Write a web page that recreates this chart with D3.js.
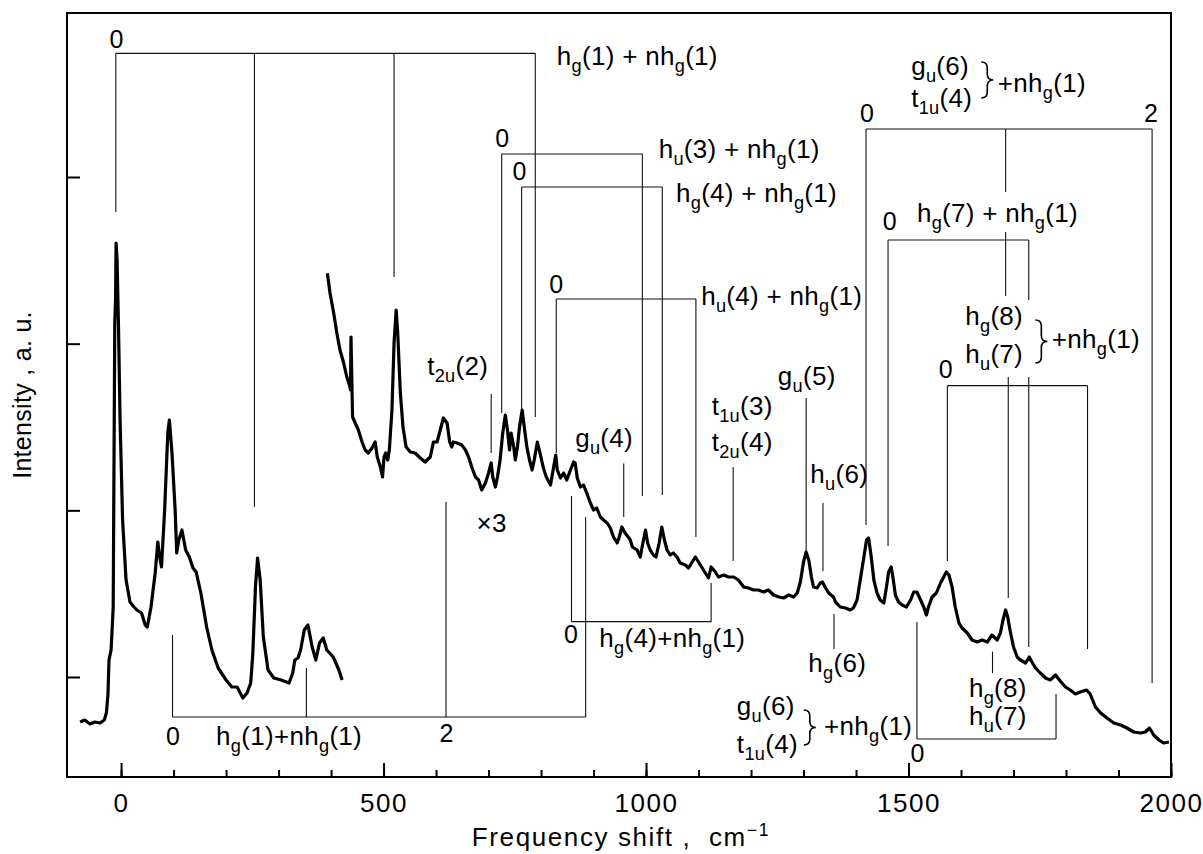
<!DOCTYPE html>
<html>
<head>
<meta charset="utf-8">
<script src="https://cdn.jsdelivr.net/npm/d3@7/dist/d3.min.js"></script>
<style>
body { margin: 0; background: #fff; }
text { font-family: "Liberation Sans", Arial, Helvetica, sans-serif; fill: #000; white-space: pre; }
</style>
</head>
<body>
<div id="chart"></div>
<script>
// spectrum below 420 cm-1 (frequency shift, intensity a.u.)
var lowSpectrum = [[-78,-270],[-69,-258],[-59,-282],[-50,-270],[-40,-276],[-32,-258],[-28,-216],[-25,-108],[-23,102],[-19,162],[-15,420],[-13,1542],[-12,2130],[-10.5,2262],[-9.5,2604],[-7.6,2502],[-4.8,2082],[-1.9,1542],[2.9,942],[9.5,582],[17,450],[23,426],[30,402],[39,384],[46,312],[50,300],[57,420],[65,624],[70,810],[73,732],[77,660],[83,1002],[89,1464],[92,1542],[97,1344],[103,1002],[106,744],[110,822],[116,882],[123,762],[130,720],[137,654],[143,630],[152,504],[163,300],[173,162],[185,54],[200,-18],[211,-60],[221,-60],[232,-126],[240,-96],[247,-36],[251,144],[256,540],[260,714],[265,582],[271,240],[280,42],[291,-6],[305,-18],[320,-36],[327,24],[331,102],[337,114],[342,162],[349,282],[356,312],[364,180],[371,102],[378,204],[385,234],[392,162],[404,120],[415,42],[421,-18]];

// spectrum above 390 cm-1, shown x3
var highSpectrum = [[393,2422],[398,2304],[405,2184],[411,2064],[417,1962],[424,1884],[430,1800],[435,1752],[437,1722],[438,2040],[440,1710],[441,1560],[446,1524],[452,1482],[459,1410],[465,1362],[471,1344],[478,1374],[484,1410],[488,1320],[494,1260],[498,1200],[501,1320],[504,1344],[508,1302],[511,1362],[516,1602],[520,2004],[524,2202],[527,2064],[532,1704],[537,1500],[543,1380],[551,1350],[560,1344],[570,1314],[579,1290],[589,1320],[595,1410],[602,1410],[608,1482],[614,1554],[621,1524],[626,1410],[630,1380],[633,1410],[640,1404],[649,1392],[656,1362],[662,1320],[668,1260],[675,1200],[681,1182],[687,1122],[694,1164],[700,1224],[705,1284],[708,1200],[713,1140],[717,1200],[722,1302],[727,1464],[732,1572],[736,1482],[740,1362],[743,1464],[748,1380],[751,1302],[755,1380],[759,1500],[764,1602],[768,1500],[773,1380],[778,1302],[783,1242],[787,1302],[793,1410],[798,1344],[804,1260],[810,1200],[818,1152],[824,1260],[828,1332],[831,1242],[837,1194],[843,1224],[849,1182],[856,1242],[862,1290],[865,1284],[869,1194],[875,1140],[881,1152],[887,1104],[894,1044],[900,1002],[906,1014],[913,960],[919,942],[926,924],[932,894],[938,840],[945,804],[949,840],[954,900],[960,864],[966,840],[970,822],[974,780],[983,762],[989,720],[994,804],[999,882],[1003,804],[1008,762],[1014,732],[1019,720],[1025,804],[1030,900],[1035,822],[1040,762],[1046,732],[1052,744],[1059,720],[1065,684],[1075,672],[1081,654],[1088,690],[1094,720],[1100,690],[1107,654],[1113,624],[1119,594],[1124,660],[1132,630],[1138,600],[1148,612],[1157,600],[1167,600],[1176,582],[1186,540],[1195,534],[1205,522],[1214,522],[1224,510],[1233,522],[1243,492],[1253,480],[1262,474],[1272,492],[1281,480],[1288,504],[1294,570],[1300,690],[1305,750],[1310,702],[1315,600],[1319,540],[1326,534],[1332,564],[1336,570],[1342,534],[1348,504],[1357,480],[1361,450],[1370,420],[1380,414],[1389,402],[1395,414],[1402,462],[1408,582],[1415,720],[1420,822],[1424,834],[1429,720],[1434,582],[1440,504],[1446,462],[1453,444],[1458,540],[1462,630],[1467,660],[1471,582],[1475,492],[1481,450],[1488,432],[1496,420],[1504,462],[1510,510],[1516,510],[1523,462],[1529,420],[1534,372],[1538,420],[1545,480],[1553,504],[1561,564],[1567,600],[1572,630],[1577,612],[1583,540],[1589,420],[1596,324],[1602,294],[1612,264],[1621,222],[1631,210],[1640,222],[1650,210],[1659,252],[1669,222],[1675,264],[1680,342],[1685,402],[1689,360],[1694,270],[1700,180],[1707,120],[1713,102],[1723,84],[1730,120],[1735,90],[1742,54],[1751,24],[1761,-6],[1770,-18],[1780,12],[1789,-24],[1799,-60],[1808,-78],[1818,-102],[1827,-90],[1839,-78],[1846,-102],[1856,-180],[1866,-216],[1878,-246],[1891,-276],[1904,-288],[1916,-306],[1929,-330],[1942,-336],[1951,-330],[1959,-306],[1967,-348],[1977,-378],[1986,-396],[1996,-390]];

var xMajor = [0, 500, 1000, 1500, 2000];
var xMinor = d3.range(0, 2001, 100);
var yTicks = [0, 1000, 2000, 3000];

// combination progressions: base level, positions of n = 0,1,2.., where each leg ends
var combs = [
  {base: 3742, pos: [-10, 254, 520, 789], ends: [2790, 1020, 2400, 1560]},
  {base: -240, pos: [98, 353, 619, 885], ends: [252, 54, 1050, 960]},
  {base: 3138, pos: [725, 993], ends: [1584, 1086]},
  {base: 2940, pos: [763, 1031], ends: [1602, 1092]},
  {base: 2268, pos: [829, 1095], ends: [1344, 840]},
  {base: 332, pos: [858, 1124], ends: [1086, 564]},
  {base: 3288, pos: [1419, 1685, 1964], ends: [912, 2286, -36], gap: [1, 2910, 2670]},
  {base: 2622, pos: [1461, 1729], ends: [786, 180], gap: [1, 2262, 1800]},
  {base: 1748, pos: [1574, 1841], ends: [696, 168]},
  {base: -372, pos: [1516, 1781], ends: [330, -102]}
];

// single assignment markers: position, from, to
var markers = [
  [705, 1698, 1344], [957.5, 1281, 960], [1166, 1260, 696], [1305, 1674, 750],
  [1337, 1044, 636], [1358, 378, 168], [1690, 1800, 474], [1660, 152, 24]
];

// braces: position, top, bottom
var braces = [[1650, 3690, 3474], [1753, 2142, 1884], [1312, -198, -408]];

var labels = [
  ["0", -8.6, 3774, "middle"],
  ["h_{g}(1) + nh_{g}(1)", 830, 3672, "start"],
  ["0", 726, 3180, "middle"],
  ["0", 759, 2982, "middle"],
  ["0", 829, 2304, "middle"],
  ["t_{2u}(2)", 583, 1812, "start"],
  ["h_{u}(3) + nh_{g}(1)", 1024, 3114, "start"],
  ["h_{g}(4) + nh_{g}(1)", 1057, 2850, "start"],
  ["h_{u}(4) + nh_{g}(1)", 1105, 2232, "start"],
  ["g_{u}(6)", 1505, 3612, "start"],
  ["t_{1u}(4)", 1505, 3420, "start"],
  ["+nh_{g}(1)", 1670, 3510, "start"],
  ["0", 1421, 3330, "middle"],
  ["2", 1962, 3330, "middle"],
  ["0", 1464, 2682, "middle"],
  ["h_{g}(7) + nh_{g}(1)", 1516, 2730, "start"],
  ["h_{g}(8)", 1608, 2112, "start"],
  ["h_{u}(7)", 1608, 1884, "start"],
  ["+nh_{g}(1)", 1773, 1974, "start"],
  ["0", 1571, 1794, "middle"],
  ["g_{u}(5)", 1251, 1752, "start"],
  ["t_{1u}(3)", 1125, 1572, "start"],
  ["t_{2u}(4)", 1125, 1358, "start"],
  ["g_{u}(4)", 865, 1380, "start"],
  ["h_{u}(6)", 1313, 1164, "start"],
  ["h_{g}(6)", 1309, 30, "start"],
  ["h_{g}(4)+nh_{g}(1)", 911, 180, "start"],
  ["0", 857, 204, "middle"],
  ["g_{u}(6)", 1173, -228, "start"],
  ["t_{1u}(4)", 1173, -456, "start"],
  ["+nh_{g}(1)", 1339, -348, "start"],
  ["0", 1517, -510, "middle"],
  ["h_{g}(8)", 1615, -120, "start"],
  ["h_{u}(7)", 1615, -288, "start"],
  ["\u00d73", 677, 870, "start"],
  ["0", 99, -408, "middle"],
  ["h_{g}(1)+nh_{g}(1)", 181, -408, "start"],
  ["2", 620, -390, "middle"]
];

var W = 1203, H = 854;
var svg = d3.select("#chart").append("svg").attr("width", W).attr("height", H);

var x = d3.scaleLinear().domain([-103, 2000]).range([67, 1171]);
var y = d3.scaleLinear().domain([-600, 3984]).range([777, 13]);

// text with _{sub} and ^{sup}
function rich(sel, str) {
  var parts = str.match(/_\{[^}]*\}|\^\{[^}]*\}|[^_^]+/g);
  var shift = 0;
  parts.forEach(function(p) {
    var t = sel.append("tspan");
    if (p[0] == "_") {
      t.text(p.slice(2, -1)).attr("font-size", "0.7em").attr("dy", 7 - shift);
      shift = 7;
    } else if (p[0] == "^") {
      t.text(p.slice(2, -1)).attr("font-size", "0.68em").attr("dy", -10 - shift);
      shift = -10;
    } else {
      t.text(p).attr("dy", -shift);
      shift = 0;
    }
  });
}

// axes
var xAxis = svg.append("g").attr("transform", "translate(0,777)")
  .call(d3.axisBottom(x).tickValues(xMajor).tickSize(-14).tickPadding(17).tickFormat(d3.format("d")));
svg.append("g").attr("transform", "translate(0,777)")
  .call(d3.axisBottom(x).tickValues(xMinor).tickSize(-7).tickFormat(""));
svg.append("g").attr("transform", "translate(67,0)")
  .call(d3.axisLeft(y).tickValues(yTicks).tickSize(-13).tickFormat(""));
svg.selectAll(".domain").remove();
svg.selectAll(".tick line").attr("stroke", "#000").attr("stroke-width", 2);
xAxis.selectAll("text").attr("font-size", 26).attr("letter-spacing", 1.5)
  .attr("font-family", "Liberation Sans, Arial, sans-serif");

svg.append("rect").attr("x", 67).attr("y", 13).attr("width", 1104).attr("height", 764)
  .attr("fill", "none").attr("stroke", "#000").attr("stroke-width", 2);

// annotation lines
var ann = svg.append("g").attr("stroke", "#111").attr("stroke-width", 1.1).attr("fill", "none");
combs.forEach(function(c) {
  ann.append("line")
    .attr("x1", x(c.pos[0])).attr("x2", x(c.pos[c.pos.length - 1]))
    .attr("y1", y(c.base)).attr("y2", y(c.base));
  c.pos.forEach(function(p, i) {
    if (c.gap && c.gap[0] == i) {
      ann.append("line").attr("x1", x(p)).attr("x2", x(p)).attr("y1", y(c.base)).attr("y2", y(c.gap[1]));
      ann.append("line").attr("x1", x(p)).attr("x2", x(p)).attr("y1", y(c.gap[2])).attr("y2", y(c.ends[i]));
    } else {
      ann.append("line").attr("x1", x(p)).attr("x2", x(p)).attr("y1", y(c.base)).attr("y2", y(c.ends[i]));
    }
  });
});
markers.forEach(function(m) {
  ann.append("line").attr("x1", x(m[0])).attr("x2", x(m[0])).attr("y1", y(m[1])).attr("y2", y(m[2]));
});

function bracePath(xc, y0, y1) {
  var w = 6, r = 6, ym = (y0 + y1) / 2;
  var p = d3.path();
  p.moveTo(xc - w, y0);
  p.quadraticCurveTo(xc, y0, xc, y0 + r);
  p.lineTo(xc, ym - r);
  p.quadraticCurveTo(xc, ym, xc + w, ym);
  p.quadraticCurveTo(xc, ym, xc, ym + r);
  p.lineTo(xc, y1 - r);
  p.quadraticCurveTo(xc, y1, xc - w, y1);
  return p.toString();
}
braces.forEach(function(b) {
  svg.append("path").attr("d", bracePath(x(b[0]), y(b[1]), y(b[2])))
    .attr("fill", "none").attr("stroke", "#000").attr("stroke-width", 1.6);
});

// spectra
var line = d3.line().x(function(d) { return x(d[0]); }).y(function(d) { return y(d[1]); });
[lowSpectrum, highSpectrum].forEach(function(s) {
  svg.append("path").datum(s).attr("d", line)
    .attr("fill", "none").attr("stroke", "#000").attr("stroke-width", 3.2)
    .attr("stroke-linejoin", "round");
});

// labels
labels.forEach(function(l) {
  var digit = /^[0-9]$/.test(l[0]);
  var t = svg.append("text").attr("x", x(l[1])).attr("y", y(l[2]))
    .attr("text-anchor", l[3]).attr("font-size", digit ? 25 : 26)
    .attr("letter-spacing", digit ? 0 : 0.3);
  rich(t, l[0]);
});

// axis titles
var xt = svg.append("text").attr("x", 621).attr("y", 846).attr("font-size", 26)
  .attr("text-anchor", "middle").attr("letter-spacing", 1.6);
rich(xt, "Frequency shift ,  cm^{\u22121}");
svg.append("text").attr("transform", "translate(31,395) rotate(-90)")
  .attr("text-anchor", "middle").attr("font-size", 25).attr("letter-spacing", 0.3)
  .text("Intensity , a. u.");
</script>
</body>
</html>
